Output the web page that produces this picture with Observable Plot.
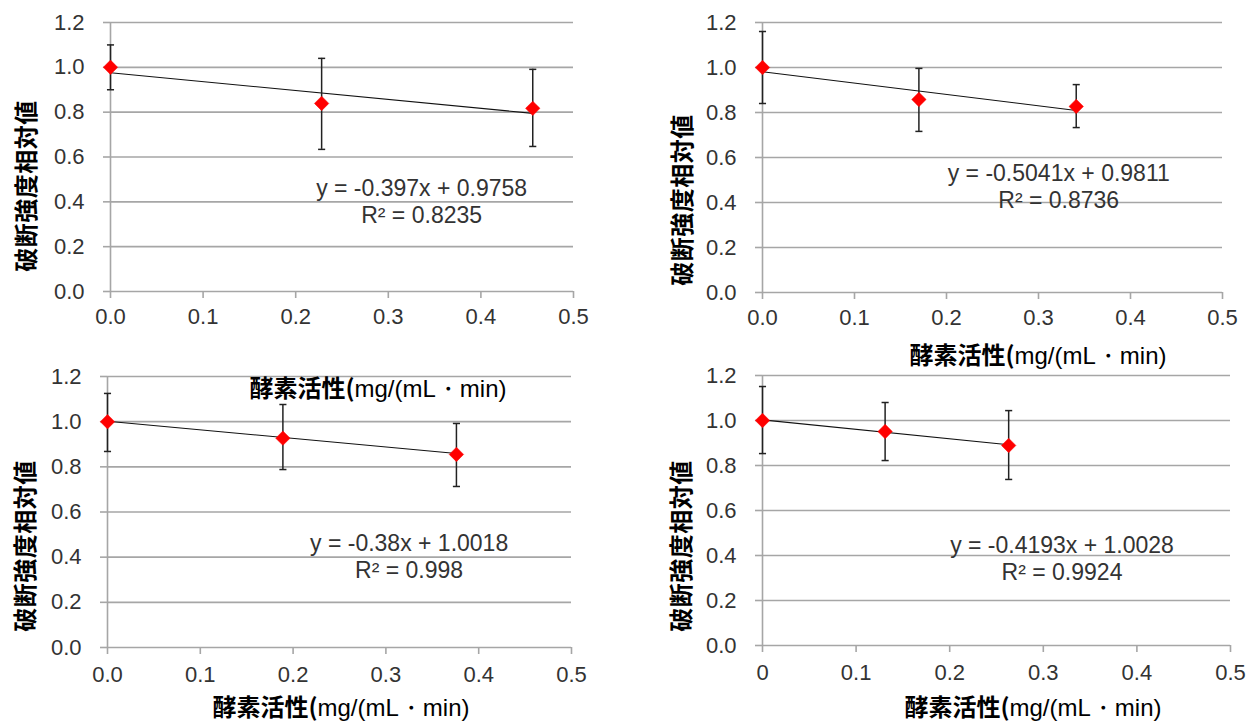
<!DOCTYPE html>
<html><head><meta charset="utf-8">
<script src="https://cdn.jsdelivr.net/npm/d3@7"></script>
<script src="https://cdn.jsdelivr.net/npm/@observablehq/plot@0.6"></script>
<style>
body{margin:0;background:#fff;}
#wrap{position:relative;width:1254px;height:723px;overflow:hidden;background:#fff;}
.panel{position:absolute;}
.xt{position:absolute;white-space:nowrap;transform:translate(-50%,-50%);font-size:24px;color:#000;line-height:1;}
.xt b{font-family:"Noto Sans CJK JP";font-weight:700;}
.xt span{font-family:"Liberation Sans",Arial,sans-serif;}
.yt{position:absolute;white-space:nowrap;transform:translate(-50%,-50%) rotate(-90deg);font-family:"Noto Sans CJK JP";font-weight:700;font-size:24px;line-height:1;color:#000;letter-spacing:0.5px;}
</style></head>
<body><div id="wrap"></div>
<script>
// ---- data ----
const xLabelBold = "酵素活性(";
const xLabelRest = "mg/(mL・min)";
const yLabel = "破断強度相対値";

const xTicks = [0, 0.1, 0.2, 0.3, 0.4, 0.5];
const xTickLabels = ["0.0", "0.1", "0.2", "0.3", "0.4", "0.5"];
const xTickLabels4 = ["0", "0.1", "0.2", "0.3", "0.4", "0.5"];
const yTicks = [0, 0.2, 0.4, 0.6, 0.8, 1.0, 1.2];
const yTickLabels = ["0.0", "0.2", "0.4", "0.6", "0.8", "1.0", "1.2"];

const activity1 = [0, 0.228, 0.456];
const strength1 = [1.0, 0.839, 0.817];
const errHigh1 = [1.10, 1.04, 0.991];
const errLow1 = [0.90, 0.634, 0.647];

const activity2 = [0, 0.170, 0.341];
const strength2 = [1.0, 0.858, 0.827];
const errHigh2 = [1.16, 0.996, 0.924];
const errLow2 = [0.84, 0.716, 0.733];

const activity3 = [0, 0.189, 0.376];
const strength3 = [1.0, 0.927, 0.855];
const errHigh3 = [1.125, 1.076, 0.992];
const errLow3 = [0.868, 0.788, 0.713];

const activity4 = [0, 0.131, 0.263];
const strength4 = [1.0, 0.951, 0.889];
const errHigh4 = [1.151, 1.08, 1.044];
const errLow4 = [0.853, 0.822, 0.738];

const slopes = [-0.397, -0.5041, -0.38, -0.4193];
const intercepts = [0.9758, 0.9811, 1.0018, 1.0028];
const equations = ["y = -0.397x + 0.9758", "y = -0.5041x + 0.9811", "y = -0.38x + 1.0018", "y = -0.4193x + 1.0028"];
const r2Labels = ["R² = 0.8235", "R² = 0.8736", "R² = 0.998", "R² = 0.9924"];

// ---- drawing ----
const GRID = "#a6a6a6";
const capSymbol = {draw(ctx, size) { const r = Math.sqrt(size) / 2; ctx.moveTo(-r, 0); ctx.lineTo(r, 0); }};

function makePanel(k, xs, ys, hi, lo, tickLabels, lay) {
  const data = xs.map((x, i) => ({x, y: ys[i], hi: hi[i], lo: lo[i]}));
  const xEnd = xs[xs.length - 1];
  const trend = [0, xEnd].map(x => ({x, y: slopes[k] * x + intercepts[k]}));
  const fx = d => tickLabels[xTicks.indexOf(d)];
  const fy = d => yTickLabels[yTicks.indexOf(d)];
  const chart = Plot.plot({
    width: lay.ml + lay.pw + lay.mr,
    height: lay.mt + lay.ph + lay.mb,
    marginLeft: lay.ml, marginRight: lay.mr, marginTop: lay.mt, marginBottom: lay.mb,
    style: {fontFamily: "'Liberation Sans', Arial, sans-serif", fontSize: "22px", color: "#333", background: "white", overflow: "visible"},
    x: {domain: [0, 0.5]},
    y: {domain: [0, 1.2]},
    marks: [
      Plot.ruleY(yTicks, {stroke: GRID, strokeWidth: 1.6}),
      Plot.ruleX([0], {stroke: GRID, strokeWidth: 1.6}),
      Plot.axisX({ticks: xTicks, tickFormat: fx, tickSize: 7, tickPadding: lay.tpx, stroke: GRID, strokeWidth: 1.6, fill: "#333", fontSize: 22, label: null}),
      Plot.axisY({ticks: yTicks, tickFormat: fy, tickSize: 7, tickPadding: 19, stroke: GRID, strokeWidth: 1.6, fill: "#333", fontSize: 22, label: null}),
      Plot.line(trend, {x: "x", y: "y", stroke: "#111", strokeWidth: 1.1}),
      Plot.ruleX(data, {x: "x", y1: "lo", y2: "hi", stroke: "#222", strokeWidth: 1.5}),
      Plot.dot(data, {x: "x", y: "hi", symbol: capSymbol, r: 4, stroke: "#222", strokeWidth: 1.5, fill: "none"}),
      Plot.dot(data, {x: "x", y: "lo", symbol: capSymbol, r: 4, stroke: "#222", strokeWidth: 1.5, fill: "none"}),
      Plot.dot(data, {x: "x", y: "y", symbol: "diamond2", r: 6.5, fill: "#ff0000", stroke: "#ff0000", strokeWidth: 0.5}),
      Plot.text([equations[k]], {x: lay.eqX, y: lay.eqY1, text: d => d, fontSize: 23, fill: "#333", textAnchor: "middle", lineAnchor: "middle"}),
      Plot.text([r2Labels[k]], {x: lay.eqX, y: lay.eqY2, text: d => d, fontSize: 23, fill: "#333", textAnchor: "middle", lineAnchor: "middle"})
    ]
  });
  chart.classList.add("panel");
  chart.style.left = lay.left + "px";
  chart.style.top = lay.top + "px";
  document.getElementById("wrap").appendChild(chart);
}

makePanel(0, activity1, strength1, errHigh1, errLow1, xTickLabels,
  {left: 0, top: 0, ml: 110, mr: 40, mt: 22, mb: 40, pw: 463, ph: 269, tpx: 10, eqX: 0.336, eqY1: 0.46, eqY2: 0.34});
makePanel(1, activity2, strength2, errHigh2, errLow2, xTickLabels,
  {left: 650, top: 0, ml: 112, mr: 30, mt: 22, mb: 40, pw: 460, ph: 270, tpx: 10, eqX: 0.322, eqY1: 0.53, eqY2: 0.41});
makePanel(2, activity3, strength3, errHigh3, errLow3, xTickLabels,
  {left: 0, top: 350, ml: 107, mr: 40, mt: 26, mb: 40, pw: 464, ph: 271, tpx: 12, eqX: 0.325, eqY1: 0.459, eqY2: 0.34});
makePanel(3, activity4, strength4, errHigh4, errLow4, xTickLabels4,
  {left: 650, top: 350, ml: 112, mr: 20, mt: 25, mb: 40, pw: 468, ph: 270, tpx: 12, eqX: 0.32, eqY1: 0.444, eqY2: 0.326});

const wrap = document.getElementById("wrap");
[[378, 388], [1038, 355], [341, 707], [1033, 707]].forEach(([cx, cy]) => {
  const d = document.createElement("div");
  d.className = "xt";
  d.style.left = cx + "px"; d.style.top = cy + "px";
  const b = document.createElement("b"); b.textContent = xLabelBold;
  const s = document.createElement("span"); s.textContent = xLabelRest;
  d.appendChild(b); d.appendChild(s);
  wrap.appendChild(d);
});
[[25, 186], [681, 200], [24, 546], [680, 546]].forEach(([cx, cy]) => {
  const d = document.createElement("div");
  d.className = "yt";
  d.style.left = cx + "px"; d.style.top = cy + "px";
  d.textContent = yLabel;
  wrap.appendChild(d);
});
</script>
</body></html>
